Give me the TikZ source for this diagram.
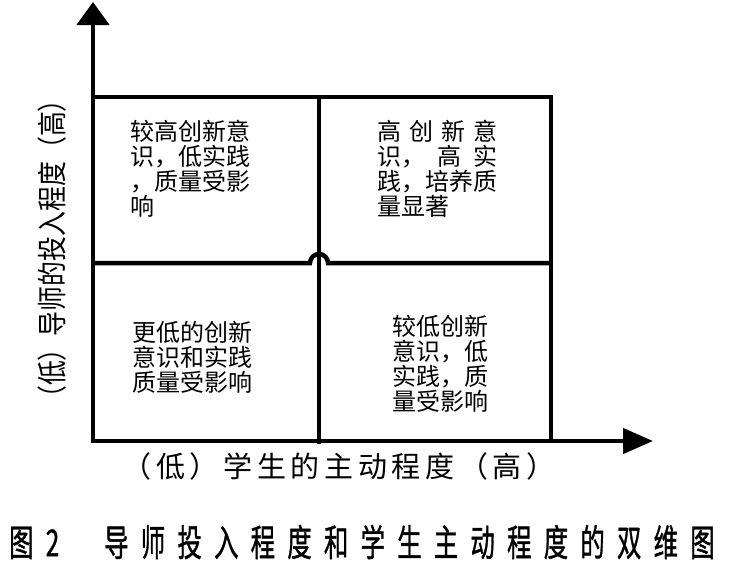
\documentclass[tikz,border=0pt]{standalone}
\usepackage{fontspec}
\setmainfont{Noto Sans CJK SC}
\newfontfamily\capfont[LetterSpace=50,FakeBold=1.2]{Noto Sans CJK SC}
\newfontfamily\axfont[LetterSpace=16]{Noto Sans CJK SC}
\usetikzlibrary{arrows.meta}
\newcommand\jl[1]{\makebox[5em][s]{#1}}

\begin{document}
\begin{tikzpicture}
      [x=1pt,y=-1pt,line join=miter,
       bar/.style={line width=4.5pt},
       quad/.style={anchor=north west,align=left,inner sep=0pt,font=\fontsize{24}{25}\selectfont}]

\useasboundingbox (0,0) rectangle (733,565);

%corner points of the chart
 \coordinate (O) at (93,441);
 \coordinate (ytip) at (93,2);
 \coordinate (xtip) at (653,441);
 \coordinate (tl) at (93,97);
 \coordinate (tr) at (551,97);
 \coordinate (br) at (551,441);
 \coordinate (mt) at (319,97);
 \coordinate (mb) at (319,444);

%axes with their arrow heads
 \draw[bar,-{Triangle[length=23pt,width=32pt]}] (93,443) -- (ytip);
 \draw[bar,-{Triangle[length=30pt,width=25pt]}] (O) -- (xtip);

%frame and the middle lines
 \draw[bar] (tl) -- (tr) -- (br);
 \draw[bar] (mt) -- (mb);
 \draw[bar] (93,263) -- (310,263) arc[start angle=180,end angle=360,radius=9] -- (551,263);

%texts of the four fields
 \node[quad] (hl) at (130,120) {较高创新意\\识，低实践\\，质量受影\\响};
 \node[quad] (hh) at (377,120) {\jl{高 创 新 意}\\\jl{识， 高 实}\\践，培养质\\量显著};
 \node[quad] (ll) at (132,321) {更低的创新\\意识和实践\\质量受影响};
 \node[quad] (lh) at (392,315) {较低创新\\意识，低\\实践，质\\量受影响};

%axis labels and caption
 \node[font=\axfont\fontsize{29}{29}\selectfont] (xlab) at (339,466) {（低）学生的主动程度（高）};
 \node[rotate=90,xscale=0.83,font=\fontsize{30}{30}\selectfont] (ylab) at (52,249) {（低）导师的投入程度（高）};
 \node[anchor=west,xscale=0.66,inner sep=0pt,font=\capfont\fontsize{37}{37}\selectfont] (cap) at (9,542) {图2\hspace{68pt}导师投入程度和学生主动程度的双维图};

\end{tikzpicture}
\end{document}
